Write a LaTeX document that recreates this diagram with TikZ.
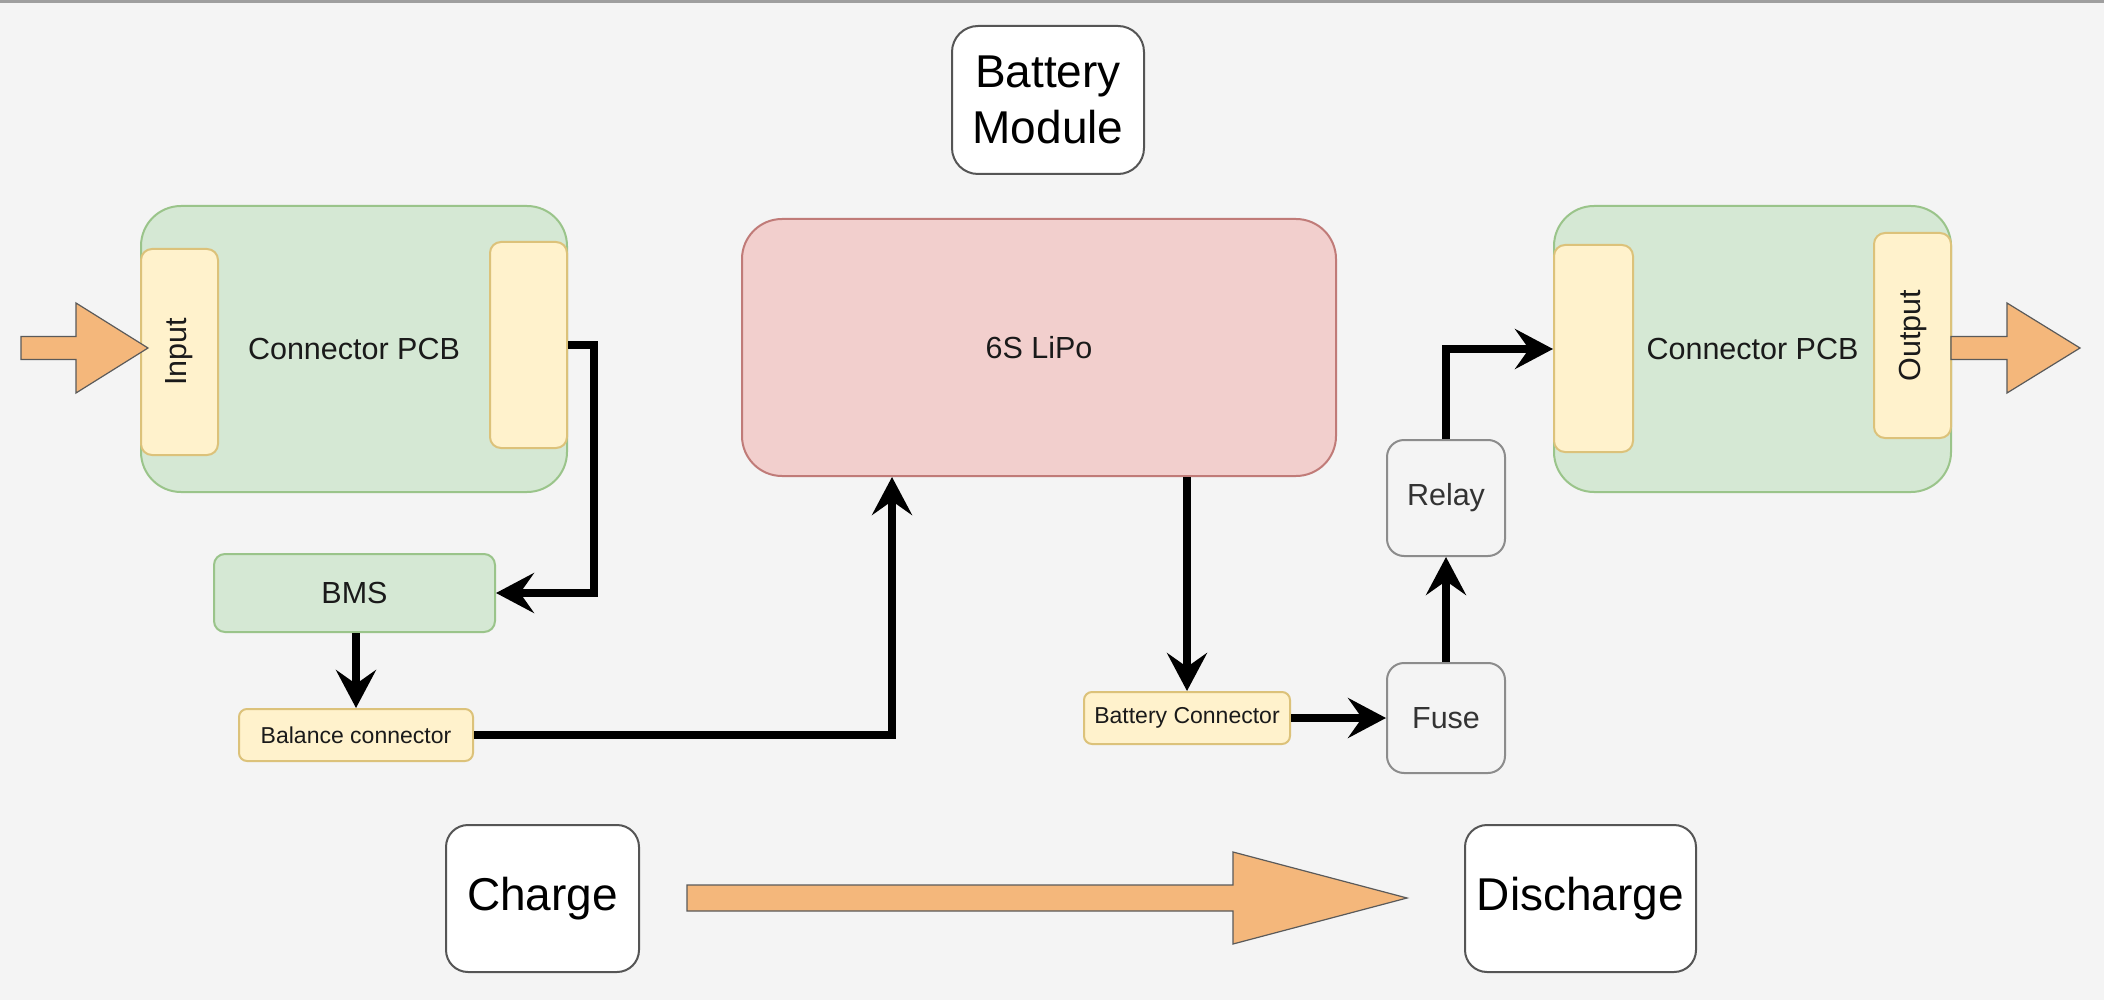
\documentclass[tikz,border=0pt]{standalone}
\usepackage{fontspec}
\setmainfont{Liberation Sans}
\usetikzlibrary{arrows.meta,calc}
\definecolor{bg}{HTML}{F4F4F4}
\definecolor{gfill}{HTML}{D5E8D4}
\definecolor{gdraw}{HTML}{9AC48A}
\definecolor{yfill}{HTML}{FFF2CC}
\definecolor{ydraw}{HTML}{DCC27A}
\definecolor{rfill}{HTML}{F2CFCD}
\definecolor{rdraw}{HTML}{C07B78}
\definecolor{ofill}{HTML}{F4B77B}
\definecolor{odraw}{HTML}{5A5A5A}
\definecolor{gline}{HTML}{8C8C8C}
\definecolor{dline}{HTML}{555555}
\definecolor{txtg}{HTML}{333333}
\definecolor{txtk}{HTML}{1A1A1A}
\begin{document}
\begin{tikzpicture}[x=1pt,y=-1pt,
  box/.style={draw, line width=2pt, inner sep=0pt, anchor=center, align=center, text=txtk},
  gbox/.style={box, fill=gfill, draw=gdraw},
  ybox/.style={box, fill=yfill, draw=ydraw},
  rbox/.style={box, fill=rfill, draw=rdraw},
  wbox/.style={box, fill=white, draw=dline, text=black},
  lbox/.style={box, fill=bg, draw=gline, text=txtg},
  midfont/.style={font=\fontsize{30.5}{36}\selectfont},
  smallfont/.style={font=\fontsize{23}{27}\selectfont},
  bigfont/.style={font=\fontsize{46}{56}\selectfont},
  vtext/.style={rotate=90, midfont, inner sep=0pt, text=txtk},
  conn/.style={line width=8pt, -{Stealth[length=38pt,width=40pt,inset=14pt]}},
  barrow/.style={fill=ofill, draw=odraw, line width=1.2pt, line join=miter}
]
\fill[bg] (0,0) rectangle (2104,1000);
\useasboundingbox (0,0) rectangle (2104,1000);
\draw[line width=3pt, color=gray!75] (0,1.5) -- (2104,1.5);

% title
\node[wbox, bigfont, minimum width=192, minimum height=148, rounded corners=26] (bm) at (1048,100) {Battery\\Module};

% left connector PCB
\node[gbox, midfont, minimum width=426, minimum height=286, rounded corners=40] (pcbL) at (354,349) {Connector PCB};
\node[ybox, minimum width=77, minimum height=206, rounded corners=11] (inL) at (179.5,352) {};
\node[vtext] (inLt) at (inL) {Input};
\node[ybox, minimum width=77, minimum height=206, rounded corners=11] (outL) at (528.5,345) {};

% BMS and balance connector
\node[gbox, midfont, minimum width=281, minimum height=78, rounded corners=11] (bms) at (354.5,593) {BMS};
\node[ybox, smallfont, minimum width=234, minimum height=52, rounded corners=8] (bal) at (356,735) {Balance connector};

% LiPo
\node[rbox, midfont, minimum width=594, minimum height=257, rounded corners=40] (lipo) at (1039,347.5) {6S LiPo};

% battery connector, fuse, relay
\node[ybox, smallfont, minimum width=206, minimum height=52, rounded corners=8] (bcon) at (1187,718) {Battery Connector};
\node[lbox, midfont, minimum width=118, minimum height=110, rounded corners=17] (fuse) at (1446,718) {Fuse};
\node[lbox, midfont, minimum width=118, minimum height=116, rounded corners=17] (relay) at (1446,498) {Relay};

% right connector PCB
\node[gbox, midfont, minimum width=397, minimum height=286, rounded corners=40] (pcbR) at (1752.5,349) {Connector PCB};
\node[ybox, minimum width=79, minimum height=207, rounded corners=11] (inR) at (1593.5,348.5) {};
\node[ybox, minimum width=77, minimum height=205, rounded corners=11] (outR) at (1912.5,335.5) {};
\node[vtext] (outRt) at (outR) {Output};

% legend
\node[wbox, bigfont, minimum width=193, minimum height=147, rounded corners=22] (charge) at (542.5,898.5) {Charge};
\node[wbox, bigfont, minimum width=231, minimum height=147, rounded corners=22] (discharge) at (1580.5,898.5) {Discharge};

% block arrows
\coordinate (inTip) at (148,348);
\filldraw[barrow] (inTip) -- ++(-72,-45) -- ++(0,33.5) -- ++(-55,0) -- ++(0,23) -- ++(55,0) -- ++(0,33.5) -- cycle;
\coordinate (outTip) at (2080,348);
\filldraw[barrow] (outTip) -- ++(-73,-45) -- ++(0,33.5) -- ++(-56,0) -- ++(0,23) -- ++(56,0) -- ++(0,33.5) -- cycle;
\coordinate (bigTip) at (1407,898);
\filldraw[barrow] (bigTip) -- ++(-174,-46) -- ++(0,33) -- ++(-546,0) -- ++(0,26) -- ++(546,0) -- ++(0,33) -- cycle;

% connectors
\draw[conn] (outL.east) -- ++(26,0) |- (bms.east);
\draw[conn] (bms.south -| bal.north) -- (bal.north);
\coordinate (lipoIn) at ([xshift=-147pt]lipo.south);
\draw[conn] (bal.east) -| (lipoIn);
\draw[conn] (bcon.north |- lipo.south) -- (bcon.north);
\draw[conn] (bcon.east) -- (fuse.west);
\draw[conn] (fuse.north) -- (relay.south);
\draw[conn] (relay.north) |- (pcbR.west);
\end{tikzpicture}
\end{document}
